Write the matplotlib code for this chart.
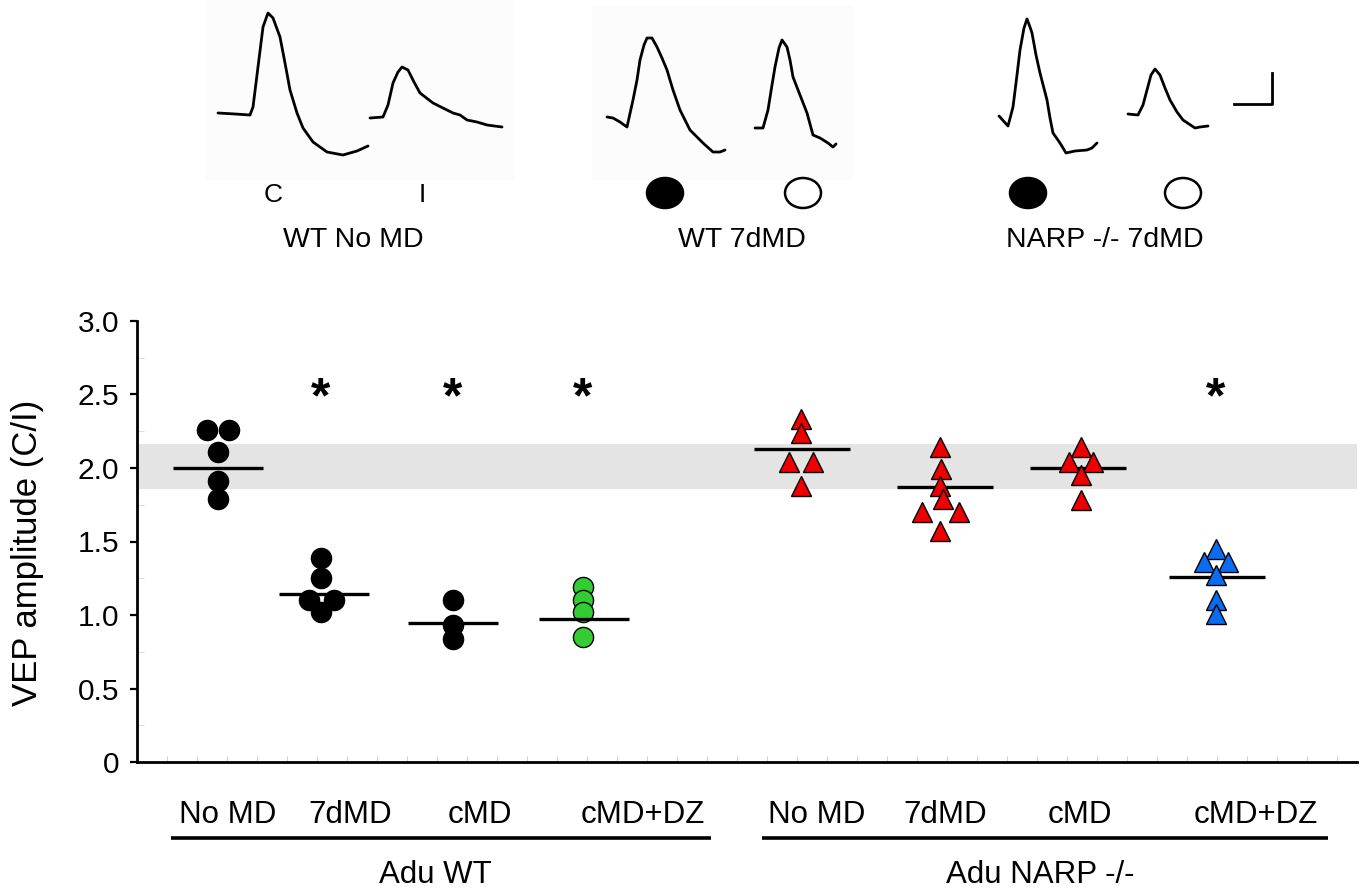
import matplotlib
matplotlib.use("Agg")
import matplotlib.pyplot as plt
from matplotlib.patches import Ellipse, Rectangle
from matplotlib.ticker import MultipleLocator, FuncFormatter

plt.rcParams['font.family'] = ['Liberation Sans', 'DejaVu Sans']

# ---------------- data ----------------
groups = ["Adu WT", "Adu NARP -/-"]
categories = ["No MD", "7dMD", "cMD", "cMD+DZ", "No MD", "7dMD", "cMD", "cMD+DZ"]

wt_nomd = [2.26, 2.26, 2.11, 1.91, 1.79]
wt_7dmd = [1.39, 1.25, 1.105, 1.105, 1.02]
wt_cmd = [1.105, 0.93, 0.84]
wt_cmd_dz = [1.19, 1.105, 1.02, 0.85]
narp_nomd = [2.33, 2.24, 2.04, 2.04, 1.88]
narp_7dmd = [2.14, 1.99, 1.88, 1.79, 1.70, 1.70, 1.57]
narp_cmd = [2.14, 2.04, 2.04, 1.95, 1.78]
narp_cmd_dz = [1.45, 1.36, 1.36, 1.27, 1.10, 1.01]

group_means = [2.00, 1.14, 0.945, 0.97, 2.13, 1.87, 2.00, 1.26]
significant = [False, True, True, True, False, False, False, True]
control_band = (1.855, 2.16)

y_ticks = [0, 0.5, 1.0, 1.5, 2.0, 2.5, 3.0]

# example VEP traces (time, amplitude; arbitrary units)
trace_c_t = [0, 17, 32, 35, 40, 45, 50, 55, 62, 67, 72, 79, 85, 95, 109, 125, 139, 150]
trace_c_v = [0, -1, -2, 6, 46, 86, 100, 95, 76, 50, 23, 0, -15, -29, -39, -42, -38, -33]
trace_i_t = [0, 13, 18, 23, 28, 32, 38, 44, 50, 63, 83, 90, 97, 107, 117, 132]
trace_i_v = [0, 1, 13, 35, 46, 51, 48, 36, 25, 15, 5, 3, -2, -4, -7, -9]
trace_wt7_dep_t = [0, 6, 13, 20, 26, 30, 33, 37, 40, 45, 50, 55, 60, 66, 73, 83, 90, 96, 106, 113, 118]
trace_wt7_dep_v = [0, -1, -5, -10, 17, 37, 57, 72, 79, 79, 70, 59, 47, 27, 7, -13, -20, -26, -35, -35, -33]
trace_wt7_open_t = [0, 8, 13, 17, 20, 24, 27, 32, 35, 38, 45, 52, 58, 65, 73, 78, 81]
trace_wt7_open_v = [0, 0, 18, 43, 61, 80, 88, 81, 68, 51, 33, 15, -7, -10, -15, -19, -16]
trace_narp_dep_t = [0, 9, 14, 18, 21, 25, 28, 31, 33, 37, 41, 48, 51, 54, 61, 67, 76, 88, 93, 98]
trace_narp_dep_v = [0, -10, 9, 41, 66, 88, 97, 89, 83, 61, 43, 16, -2, -17, -27, -37, -35, -34, -32, -27]
trace_narp_open_t = [0, 10, 15, 19, 23, 27, 32, 37, 42, 49, 55, 67, 72, 80]
trace_narp_open_v = [0, -1, 9, 24, 39, 45, 39, 26, 14, 2, -6, -14, -13, -12]

# ---------------- layout ----------------
W, H = 1363, 890
fig = plt.figure(figsize=(W / 100, H / 100), dpi=100)

ax_left, ax_right, ax_bottom, ax_top = 137, 1357, 762, 321
ax = fig.add_axes([ax_left / W, 1 - ax_bottom / H, (ax_right - ax_left) / W, (ax_bottom - ax_top) / H])
ax.set_xlim(0, ax_right - ax_left)
ax.set_ylim(0, 3.0)

positions = [81, 184, 316, 446, 664, 803, 944, 1079]
line_centers = [81, 187, 316, 447, 665, 808, 941, 1080]
line_half = [45, 45, 45, 45, 48, 48, 48, 48]
offsets = [
    [-11, 11, 0, 0, 0],
    [0, 0, -12.5, 12.5, 0],
    [0, 0, 0],
    [0, 0, 0, 0],
    [0, 0, -12, 12, 0],
    [0, 1, 0, 3, -18, 19, 0],
    [0, -12, 12, 0, 0],
    [0, -12, 12, 0, 0, 0],
]
series = [wt_nomd, wt_7dmd, wt_cmd, wt_cmd_dz, narp_nomd, narp_7dmd, narp_cmd, narp_cmd_dz]
circ = dict(marker='o', ms=14.5, mew=1.0, mec='black')
tri = dict(marker='^', ms=14, mew=1.0, mec='black')
styles = [
    dict(circ, mfc='black'), dict(circ, mfc='black'), dict(circ, mfc='black'),
    dict(circ, mfc='#33cc33'),
    dict(tri, mfc='#ee0000'), dict(tri, mfc='#ee0000'), dict(tri, mfc='#ee0000'),
    dict(tri, mfc='#0a6cf0'),
]
line_on_top = [True, True, True, True, False, False, False, False]

ax.axhspan(control_band[0], control_band[1], color='#e4e4e4', lw=0, zorder=0)

for i, vals in enumerate(series):
    xs = [positions[i] + o for o in offsets[i]]
    ax.plot(xs, vals, ls='none', zorder=3, **styles[i])
    ax.hlines(group_means[i], line_centers[i] - line_half[i], line_centers[i] + line_half[i],
              color='black', lw=2.4, zorder=4 if line_on_top[i] else 2)
    if significant[i]:
        ax.text(positions[i], 2.47, '*', ha='center', va='center', fontsize=36,
                fontweight='bold', zorder=5)

for s in ['top', 'right']:
    ax.spines[s].set_visible(False)
for s in ['left', 'bottom']:
    ax.spines[s].set_linewidth(2.0)
ax.set_yticks(y_ticks)
ax.yaxis.set_major_formatter(FuncFormatter(lambda v, p: '0' if v == 0 else f'{v:.1f}'))
ax.yaxis.set_minor_locator(MultipleLocator(0.25))
ax.tick_params(axis='y', which='major', direction='out', length=5, width=1.6, labelsize=21.5, pad=8)
ax.tick_params(axis='y', which='minor', direction='in', length=5, width=0.8, color='#dddddd')
ax.set_xticks([])
ax.xaxis.set_minor_locator(MultipleLocator(30))
ax.tick_params(axis='x', which='minor', direction='in', length=4, width=0.8, color='#d0d0d0')

# overlay axes in pixel coordinates
ov = fig.add_axes([0, 0, 1, 1], facecolor='none')
ov.set_xlim(0, W)
ov.set_ylim(H, 0)
ov.axis('off')
ov.set_zorder(-1)

ov.text(28, 553, 'VEP amplitude (C/I)', rotation=90, ha='center', va='center', fontsize=25)

label_x = [228, 350, 480, 643, 817, 945, 1080, 1256]
for x, lab in zip(label_x, categories):
    ov.text(x, 815, lab, ha='center', va='center', fontsize=22.5)
ov.plot([171, 711], [838, 838], color='black', lw=2.6, solid_capstyle='butt')
ov.plot([762, 1328], [838, 838], color='black', lw=2.6, solid_capstyle='butt')
ov.text(435, 875, groups[0], ha='center', va='center', fontsize=22.5)
ov.text(1040, 875, groups[1], ha='center', va='center', fontsize=22.5)

# faint panel backgrounds of the traces
ov.add_patch(Rectangle((205, 0), 310, 180, color='#fcfcfc', lw=0, zorder=0))
ov.add_patch(Rectangle((592, 5), 262, 175, color='#fcfcfc', lw=0, zorder=0))

traces = [
    (trace_c_t, trace_c_v, 218, 113),
    (trace_i_t, trace_i_v, 370, 118),
    (trace_wt7_dep_t, trace_wt7_dep_v, 607, 117),
    (trace_wt7_open_t, trace_wt7_open_v, 755, 128),
    (trace_narp_dep_t, trace_narp_dep_v, 999, 116),
    (trace_narp_open_t, trace_narp_open_v, 1128, 114),
]
for t, v, x0, y0 in traces:
    ov.plot([x0 + a for a in t], [y0 - b for b in v], color='black', lw=2.0,
            solid_joinstyle='round', solid_capstyle='round', zorder=2)

# scale bar
ov.plot([1234, 1272, 1272], [104, 104, 73], color='black', lw=2.0, zorder=2)

ov.text(273, 195, 'C', ha='center', va='center', fontsize=19)
ov.text(422, 195, 'I', ha='center', va='center', fontsize=19)
for x, filled in [(665, True), (803, False), (1028, True), (1183, False)]:
    ov.add_patch(Ellipse((x, 193), 36, 30, facecolor='black' if filled else 'white',
                         edgecolor='black', lw=1.8, zorder=2))
ov.text(353, 240, 'WT No MD', ha='center', va='center', fontsize=20.5)
ov.text(742, 240, 'WT 7dMD', ha='center', va='center', fontsize=20.5)
ov.text(1105, 240, 'NARP -/- 7dMD', ha='center', va='center', fontsize=20.5)

fig.savefig('out.png', dpi=100)
